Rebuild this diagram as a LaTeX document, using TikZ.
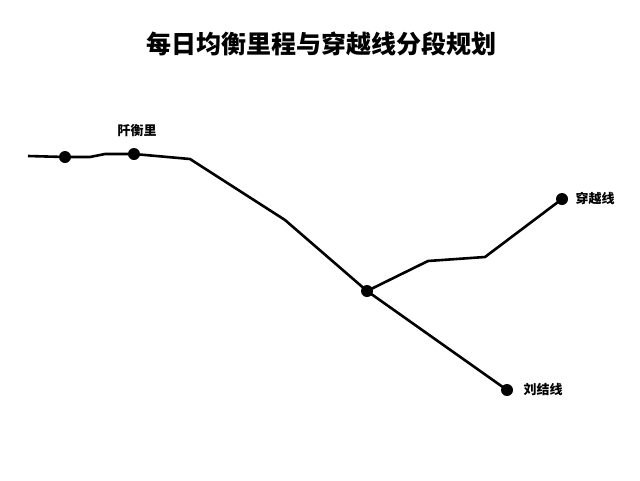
\documentclass[tikz,border=0pt]{standalone}
\usepackage{fontspec}
\newfontfamily\cjk{Noto Sans CJK SC}
\begin{document}
\begin{tikzpicture}[x=1pt,y=-1pt,
  dot/.style={circle,fill=black,inner sep=0pt,minimum size=12pt},
  lab/.style={font=\cjk\bfseries\fontsize{13}{15}\selectfont},
  ln/.style={line width=2.6pt,line join=round}]
\useasboundingbox (0,0) rectangle (640,480);
\node[font=\cjk\bfseries\fontsize{25}{29}\selectfont] (title) at (321,44) {每日均衡里程与穿越线分段规划};
\coordinate (s) at (28,156);
\node[dot] (a) at (65,157) {};
\coordinate (p1) at (90,157);
\coordinate (p2) at (105,154);
\node[dot] (b) at (134,154) {};
\coordinate (p3) at (190,159);
\coordinate (p4) at (285,220);
\node[dot] (c) at (367,291) {};
\node[dot] (d) at (507,390) {};
\coordinate (q1) at (428,261);
\coordinate (q2) at (485,257);
\node[dot] (e) at (562,199) {};
\draw[ln] (s) -- (a.center) -- (p1) -- (p2) -- (b.center) -- (p3) -- (p4) -- (c.center) -- (d.center);
\draw[ln] (c.center) -- (q1) -- (q2) -- (e.center);
\node[lab] (lb) at (137,131) {阡衡里};
\node[lab,anchor=west] (le) at (572,198) {穿越线};
\node[lab,anchor=west] (ld) at (520,390) {刘结线};
\end{tikzpicture}
\end{document}
